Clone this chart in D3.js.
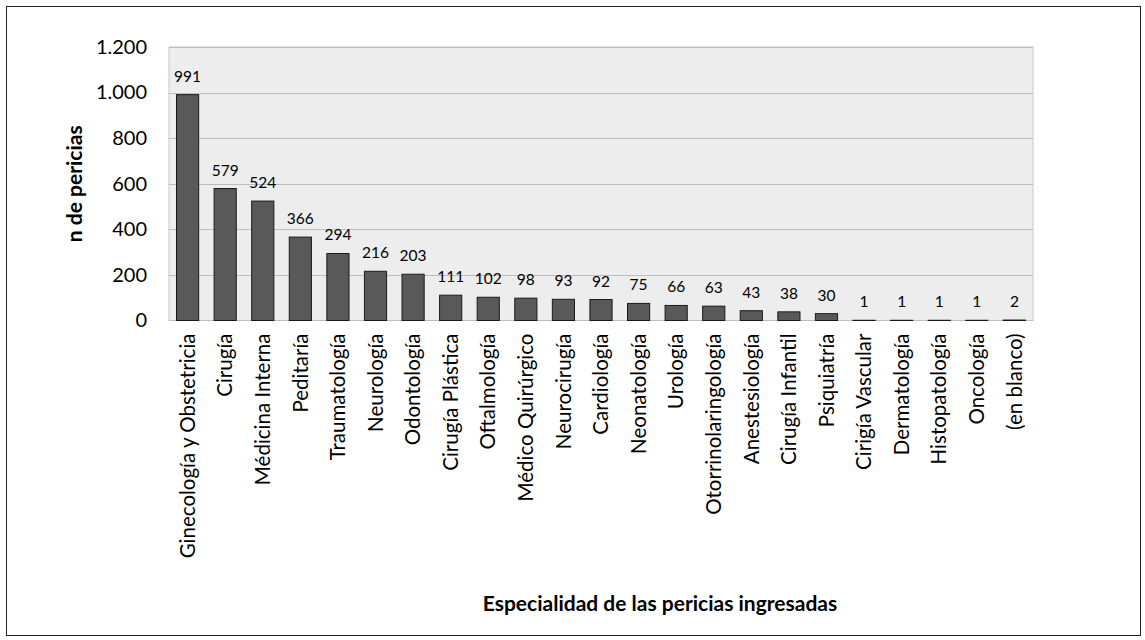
<!DOCTYPE html>
<html>
<head>
<meta charset="utf-8">
<script src="https://cdn.jsdelivr.net/npm/d3@7"></script>
<style>
  body { margin: 0; background: #fff; }
  text { font-family: Lato, "Open Sans", sans-serif; fill: #000; }
</style>
</head>
<body>
<svg id="chart" width="1145" height="640"></svg>
<script>
var especialidades = ['Ginecología y Obstetricia', 'Cirugía', 'Médicina Interna', 'Peditaría',
  'Traumatología', 'Neurología', 'Odontología', 'Cirugía Plástica', 'Oftalmología',
  'Médico Quirúrgico', 'Neurocirugía', 'Cardiología', 'Neonatología', 'Urología',
  'Otorrinolaringología', 'Anestesiología', 'Cirugía Infantil', 'Psiquiatría',
  'Cirigía Vascular', 'Dermatología', 'Histopatología', 'Oncología', '(en blanco)'];
var pericias = [991, 579, 524, 366, 294, 216, 203, 111, 102, 98, 93, 92, 75, 66, 63, 43, 38, 30, 1, 1, 1, 1, 2];
var yTicks = [0, 200, 400, 600, 800, 1000, 1200];
var yTickLabels = ['0', '200', '400', '600', '800', '1.000', '1.200'];

var svg = d3.select('#chart');
var plot = { left: 169, top: 47, right: 1033, bottom: 320.5 };

// outer frame
svg.append('rect')
  .attr('x', 6.5).attr('y', 6.5)
  .attr('width', 1134).attr('height', 629)
  .style('fill', 'none').style('stroke', '#222').style('stroke-width', 1);

var x = d3.scaleBand()
  .domain(especialidades)
  .range([plot.left, plot.right])
  .paddingInner(0.41)
  .paddingOuter(0.2);

var y = d3.scaleLinear()
  .domain([0, 1200])
  .range([plot.bottom, plot.top]);

// plot background
svg.append('rect')
  .attr('x', plot.left).attr('y', plot.top)
  .attr('width', plot.right - plot.left).attr('height', plot.bottom - plot.top)
  .style('fill', '#ededed').style('stroke', '#c8c8c8');

// gridlines
svg.append('g').selectAll('line')
  .data(yTicks.slice(1))
  .enter().append('line')
  .attr('x1', plot.left).attr('x2', plot.right)
  .attr('y1', function (d) { return Math.round(y(d)) + 0.5; })
  .attr('y2', function (d) { return Math.round(y(d)) + 0.5; })
  .style('stroke', '#bdbdbd').style('stroke-width', 1);

// y axis labels
var yAxis = d3.axisLeft(y)
  .tickValues(yTicks)
  .tickFormat(function (d, i) { return yTickLabels[i]; })
  .tickSize(0).tickPadding(22);
var yg = svg.append('g').attr('transform', 'translate(' + plot.left + ',0)').call(yAxis);
yg.select('.domain').remove();
yg.selectAll('text').style('font-size', '20px').style('font-family', 'Lato, "Open Sans", sans-serif');

// baseline
svg.append('line')
  .attr('x1', plot.left).attr('x2', plot.right)
  .attr('y1', plot.bottom).attr('y2', plot.bottom)
  .style('stroke', '#bdbdbd');

// bars
svg.append('g').selectAll('rect')
  .data(pericias)
  .enter().append('rect')
  .attr('x', function (d, i) { return x(especialidades[i]); })
  .attr('y', function (d) { return y(d); })
  .attr('width', x.bandwidth())
  .attr('height', function (d) { return plot.bottom - y(d); })
  .style('fill', '#595959')
  .style('stroke', '#1a1a1a')
  .style('stroke-width', 1);

// value labels
svg.append('g').selectAll('text')
  .data(pericias)
  .enter().append('text')
  .attr('x', function (d, i) { return x(especialidades[i]) + x.bandwidth() / 2; })
  .attr('y', function (d) { return y(d) - 13; })
  .attr('text-anchor', 'middle')
  .style('font-size', '15.5px')
  .text(function (d) { return d; });

// x axis labels, rotated
var xAxis = d3.axisBottom(x).tickSize(0).tickPadding(0);
var xg = svg.append('g').attr('transform', 'translate(0,' + plot.bottom + ')').call(xAxis);
xg.select('.domain').remove();
xg.selectAll('text')
  .attr('transform', 'rotate(-90)')
  .attr('x', -13).attr('y', 0).attr('dy', '0.35em')
  .style('text-anchor', 'end')
  .style('font-size', '20.5px')
  .style('font-family', 'Lato, "Open Sans", sans-serif');

// axis titles
svg.append('text')
  .attr('transform', 'translate(82,' + ((plot.top + plot.bottom) / 2) + ') rotate(-90)')
  .attr('text-anchor', 'middle')
  .style('font-size', '21px').style('font-weight', 'bold')
  .text('n de pericias');

svg.append('text')
  .attr('x', 660).attr('y', 611)
  .attr('text-anchor', 'middle')
  .style('font-size', '21px').style('font-weight', 'bold')
  .text('Especialidad de las pericias ingresadas');
</script>
</body>
</html>
